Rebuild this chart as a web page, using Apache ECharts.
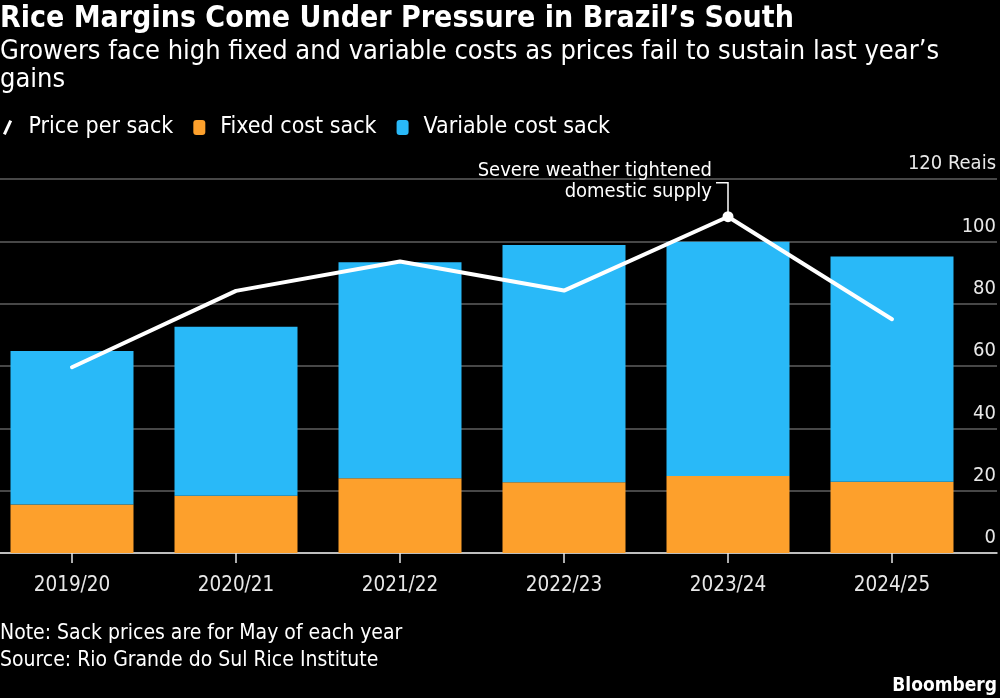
<!DOCTYPE html>
<html>
<head>
<meta charset="utf-8">
<title>Rice Margins Come Under Pressure in Brazil's South</title>
<script src="https://cdn.jsdelivr.net/npm/echarts@6/dist/echarts.min.js"></script>
<style>
  html, body { margin: 0; padding: 0; background: #000; overflow: hidden; }
  /* canvas starts 10px left of the page so the first bar band can bleed off the edge */
  #chart { position: absolute; left: -10px; top: 0; width: 1010px; height: 698px; }
</style>
</head>
<body>
<div id="chart"></div>
<script>
  // season labels
  var seasons = ['2019/20', '2020/21', '2021/22', '2022/23', '2023/24', '2024/25'];
  // reais per sack
  var fixedCost = [15.6, 18.4, 24.0, 22.7, 24.7, 22.9];
  var variableCost = [49.2, 54.2, 69.3, 76.1, 75.2, 72.2];
  var pricePerSack = [59.6, 84.1, 93.5, 84.2, 107.9, 75.0];
  var yTicks = [0, 20, 40, 60, 80, 100, 120];

  var FONT = "'DejaVu Sans Condensed', 'Liberation Sans Narrow', 'DejaVu Sans', sans-serif";
  var ORANGE = '#fda02c';
  var BLUE = '#29b9f8';
  var highlight = 4; // 2023/24
  var OFF = 10; // page x = canvas x - OFF

  var chart = echarts.init(document.getElementById('chart'));

  var option = {
    backgroundColor: '#000',
    animation: false,
    textStyle: { fontFamily: FONT },
    title: [
      {
        text: 'Rice Margins Come Under Pressure in Brazil\u2019s South',
        left: OFF, top: 4, padding: 0,
        textStyle: { color: '#fff', fontSize: 30, fontWeight: 'bold', lineHeight: 30, fontFamily: FONT }
      },
      {
        text: 'Growers face high fixed and variable costs as prices fail to sustain last year\u2019s\ngains',
        left: OFF, top: 38, padding: 0,
        textStyle: { color: '#fff', fontSize: 27, fontWeight: 'normal', lineHeight: 28, fontFamily: FONT }
      },
      {
        text: 'Note: Sack prices are for May of each year\nSource: Rio Grande do Sul Rice Institute',
        left: OFF, top: 620, padding: 0,
        textStyle: { color: '#fff', fontSize: 21, fontWeight: 'normal', lineHeight: 27, fontFamily: FONT }
      },
      {
        text: 'Bloomberg',
        right: 3, top: 676, padding: 0,
        textStyle: { color: '#fff', fontSize: 19, fontWeight: 'bold', lineHeight: 20, fontFamily: FONT }
      }
    ],
    legend: {
      left: OFF + 3, top: 116, padding: 0,
      itemWidth: 12, itemHeight: 15,
      itemGap: 20,
      textStyle: { color: '#fff', fontSize: 23, fontFamily: FONT, padding: [0, 0, 0, 10] },
      data: [
        { name: 'Price per sack', icon: 'path://M0,15 L7,0 L10,1.5 L3,16.5 Z', itemStyle: { color: '#fff' } },
        { name: 'Fixed cost sack', icon: 'roundRect' },
        { name: 'Variable cost sack', icon: 'roundRect' }
      ]
    },
    grid: [
      // full-width grid: gridlines, value labels and baseline
      { left: OFF, right: 3, top: 179, bottom: 145 },
      // grid holding the bars and line
      { left: 0, right: 26, top: 179, bottom: 145 }
    ],
    xAxis: [
      {
        gridIndex: 0, type: 'value', min: 0, max: 1,
        axisLine: { show: true, lineStyle: { color: '#e6e6e6', width: 1.5 } },
        axisTick: { show: false }, axisLabel: { show: false }, splitLine: { show: false }
      },
      {
        gridIndex: 1, type: 'category', data: seasons,
        axisLine: { show: false },
        axisTick: { show: true, alignWithLabel: true, length: 10, lineStyle: { color: '#e6e6e6', width: 1.5 } },
        axisLabel: { color: '#e8e8e8', fontSize: 20.5, margin: 22, fontFamily: FONT }
      }
    ],
    yAxis: [
      {
        gridIndex: 0, type: 'value', position: 'right',
        min: yTicks[0], max: yTicks[yTicks.length - 1], interval: 20,
        axisLine: { show: false }, axisTick: { show: false },
        splitLine: { show: true, lineStyle: { color: '#5f5f5f', width: 1.5 } },
        axisLabel: {
          inside: true, margin: 1, color: '#e8e8e8', fontSize: 20, fontFamily: FONT,
          verticalAlign: 'bottom', padding: [0, 0, 5, 0],
          formatter: function(v) { return v === 120 ? '120 Reais' : String(v); }
        }
      },
      {
        gridIndex: 1, type: 'value', min: 0, max: 120, show: false
      }
    ],
    series: [
      {
        name: 'Fixed cost sack', type: 'bar', stack: 'cost',
        xAxisIndex: 1, yAxisIndex: 1,
        barWidth: 123,
        itemStyle: { color: ORANGE },
        data: fixedCost
      },
      {
        name: 'Variable cost sack', type: 'bar', stack: 'cost',
        xAxisIndex: 1, yAxisIndex: 1,
        barWidth: 123,
        itemStyle: { color: BLUE },
        data: variableCost
      },
      {
        name: 'Price per sack', type: 'line',
        xAxisIndex: 1, yAxisIndex: 1,
        symbol: 'none',
        lineStyle: { color: '#fff', width: 4, cap: 'round' },
        itemStyle: { color: '#fff' },
        data: pricePerSack,
        markPoint: {
          symbol: 'circle', symbolSize: 11,
          itemStyle: { color: '#fff' },
          label: { show: false },
          data: [{ coord: [highlight, pricePerSack[highlight]] }]
        },
        z: 5
      }
    ]
  };
  chart.setOption(option);

  // annotation pinned to the 2023/24 price point
  var pt = chart.convertToPixel({ seriesIndex: 2 }, [highlight, pricePerSack[highlight]]);
  chart.setOption({
    graphic: [
      {
        type: 'polyline',
        shape: { points: [[pt[0], pt[1]], [pt[0], pt[1] - 34], [pt[0] - 12, pt[1] - 34]] },
        style: { stroke: '#fff', lineWidth: 1.5, fill: null },
        z: 10
      },
      {
        type: 'text',
        x: pt[0] - 16, y: pt[1] - 56,
        style: {
          text: 'Severe weather tightened\ndomestic supply',
          fill: '#fff', fontSize: 20, fontFamily: FONT,
          align: 'right', verticalAlign: 'top', lineHeight: 21
        },
        z: 10
      }
    ]
  });
</script>
</body>
</html>
